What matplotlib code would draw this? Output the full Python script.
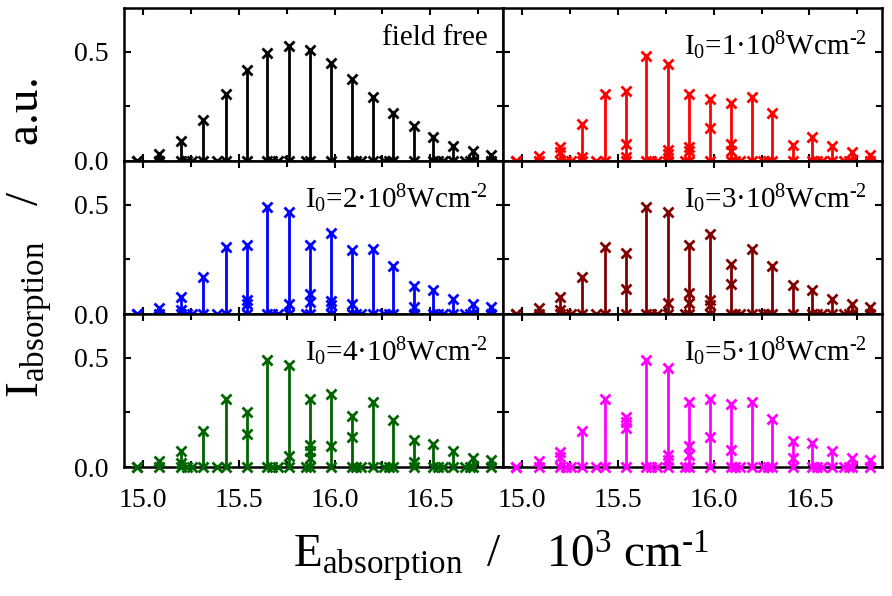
import matplotlib
matplotlib.use("Agg")
import matplotlib.pyplot as plt
from matplotlib.ticker import MultipleLocator
import numpy as np

plt.rcParams["font.family"] = ["Liberation Serif", "DejaVu Serif"]
plt.rcParams["mathtext.fontset"] = "custom"
plt.rcParams["mathtext.rm"] = "Liberation Serif"
plt.rcParams["mathtext.it"] = "Liberation Serif:italic"

# line positions (10^3 cm^-1)
peak_x = [14.969, 15.085, 15.199, 15.314, 15.431, 15.541, 15.649, 15.762, 15.872,
          15.981, 16.091, 16.199, 16.307, 16.414, 16.516, 16.618, 16.722, 16.818]
# extra lines with ~zero intensity
zero_x = [15.227, 15.257, 15.387, 15.675, 15.702, 15.850, 16.112, 16.138,
          16.260, 16.286, 16.539, 16.565, 16.679, 16.705]

labels = ["field free",
          r"I$_0$=1·10$^8$Wcm$^{\text{-2}}$",
          r"I$_0$=2·10$^8$Wcm$^{\text{-2}}$",
          r"I$_0$=3·10$^8$Wcm$^{\text{-2}}$",
          r"I$_0$=4·10$^8$Wcm$^{\text{-2}}$",
          r"I$_0$=5·10$^8$Wcm$^{\text{-2}}$"]
colors = ["black", "#ff0000", "#0000ff", "#800000", "#006400", "#ff00ff"]

main_free = [0.0, 0.032, 0.093, 0.188, 0.305, 0.416, 0.492, 0.526, 0.506,
             0.450, 0.375, 0.295, 0.220, 0.158, 0.108, 0.068, 0.044, 0.029]
main_1 = [0.0, 0.024, 0.062, 0.169, 0.305, 0.318, 0.480, 0.445, 0.308,
          0.283, 0.267, 0.295, 0.219, 0.074, 0.108, 0.070, 0.043, 0.029]
main_2 = [0.0, 0.027, 0.078, 0.169, 0.306, 0.317, 0.489, 0.466, 0.314,
          0.370, 0.294, 0.299, 0.218, 0.127, 0.108, 0.070, 0.044, 0.032]
main_3 = [0.0, 0.027, 0.078, 0.169, 0.306, 0.279, 0.489, 0.466, 0.314,
          0.364, 0.227, 0.299, 0.218, 0.131, 0.108, 0.070, 0.044, 0.032]
main_4 = [0.0, 0.026, 0.072, 0.167, 0.309, 0.252, 0.488, 0.469, 0.309,
          0.336, 0.232, 0.298, 0.217, 0.125, 0.107, 0.072, 0.041, 0.031]
main_5 = [0.0, 0.026, 0.069, 0.167, 0.309, 0.229, 0.489, 0.454, 0.297,
          0.309, 0.289, 0.297, 0.220, 0.121, 0.110, 0.072, 0.041, 0.031]

# weaker lines sitting on the same positions (index into peak_x, value)
sub_idx_free = []
sub_val_free = []
sub_idx_1 = [2, 3, 5, 5, 7, 7, 8, 8, 9, 10, 10]
sub_val_1 = [0.040, 0.020, 0.080, 0.020, 0.050, 0.030, 0.062, 0.047, 0.153, 0.077, 0.047]
sub_idx_2 = [2, 5, 5, 7, 8, 8, 9, 9, 10, 13]
sub_val_2 = [0.020, 0.066, 0.047, 0.047, 0.093, 0.055, 0.059, 0.040, 0.047, 0.030]
sub_idx_3 = [2, 5, 7, 8, 8, 9, 9, 10]
sub_val_3 = [0.020, 0.113, 0.050, 0.096, 0.050, 0.062, 0.040, 0.139]
sub_idx_4 = [2, 5, 7, 8, 8, 8, 9, 10, 13]
sub_val_4 = [0.020, 0.153, 0.049, 0.099, 0.072, 0.040, 0.098, 0.136, 0.025]
sub_idx_5 = [2, 5, 5, 7, 7, 8, 8, 9, 10, 13]
sub_val_5 = [0.044, 0.206, 0.179, 0.054, 0.030, 0.095, 0.055, 0.136, 0.080, 0.041]

mains = [main_free, main_1, main_2, main_3, main_4, main_5]
sub_idx = [sub_idx_free, sub_idx_1, sub_idx_2, sub_idx_3, sub_idx_4, sub_idx_5]
sub_val = [sub_val_free, sub_val_1, sub_val_2, sub_val_3, sub_val_4, sub_val_5]

fig, axes = plt.subplots(3, 2, figsize=(8.92, 5.96), dpi=100, sharex=True, sharey=True)
fig.subplots_adjust(left=0.139, right=0.989, top=0.9866, bottom=0.2164, hspace=0, wspace=0)

for k, ax in enumerate(axes.flat):
    c = colors[k]
    px = np.array(peak_x)
    sx = px[sub_idx[k]] if len(sub_idx[k]) else np.array([])
    ax.vlines(px, 0, mains[k], color=c, lw=2)
    allx = np.concatenate([px, sx, px, zero_x])
    ally = np.concatenate([mains[k], sub_val[k], np.zeros(len(px)), np.zeros(len(zero_x))])
    ax.plot(allx, ally, ls="none", marker="x", ms=6.5, mew=2, color=c, clip_on=False, zorder=5)
    ty = 0.76 if k == 0 else 0.69
    ax.text(0.96, ty, labels[k], transform=ax.transAxes, ha="right", va="baseline", fontsize=21)

    ax.set_xlim(14.9, 16.88)
    ax.set_ylim(0, 0.70)
    ax.xaxis.set_major_locator(MultipleLocator(0.5))
    ax.xaxis.set_minor_locator(MultipleLocator(0.25))
    ax.yaxis.set_major_locator(MultipleLocator(0.5))
    ax.yaxis.set_minor_locator(MultipleLocator(0.25))
    ax.tick_params(which="both", direction="in", top=True, right=True, width=1.5, labelsize=20)
    ax.tick_params(which="major", length=5)
    ax.tick_params(which="minor", length=4)
    ax.tick_params(axis="x", pad=15)
    ax.tick_params(axis="y", pad=11)
    for s in ax.spines.values():
        s.set_linewidth(1.8)
    ax.set_yticks([0.0, 0.5])
    ax.set_yticklabels(["0.0", "0.5"])

for ax in axes[2]:
    ax.set_xticks([15.0, 15.5, 16.0, 16.5])
    ax.set_xticklabels(["15.0", "15.5", "16.0", "16.5"])

fig.text(0.033, 0.6, r"$\mathrm{I_{absorption}}$   /    a.u.", rotation=90,
         ha="center", va="center", fontsize=34)
fig.text(0.562, 0.067, r"$\mathrm{E_{absorption}}$  /    $\mathrm{10^3\ cm^{\text{-1}}}$",
         ha="center", va="center", fontsize=34)

plt.savefig("out.png", dpi=100)
